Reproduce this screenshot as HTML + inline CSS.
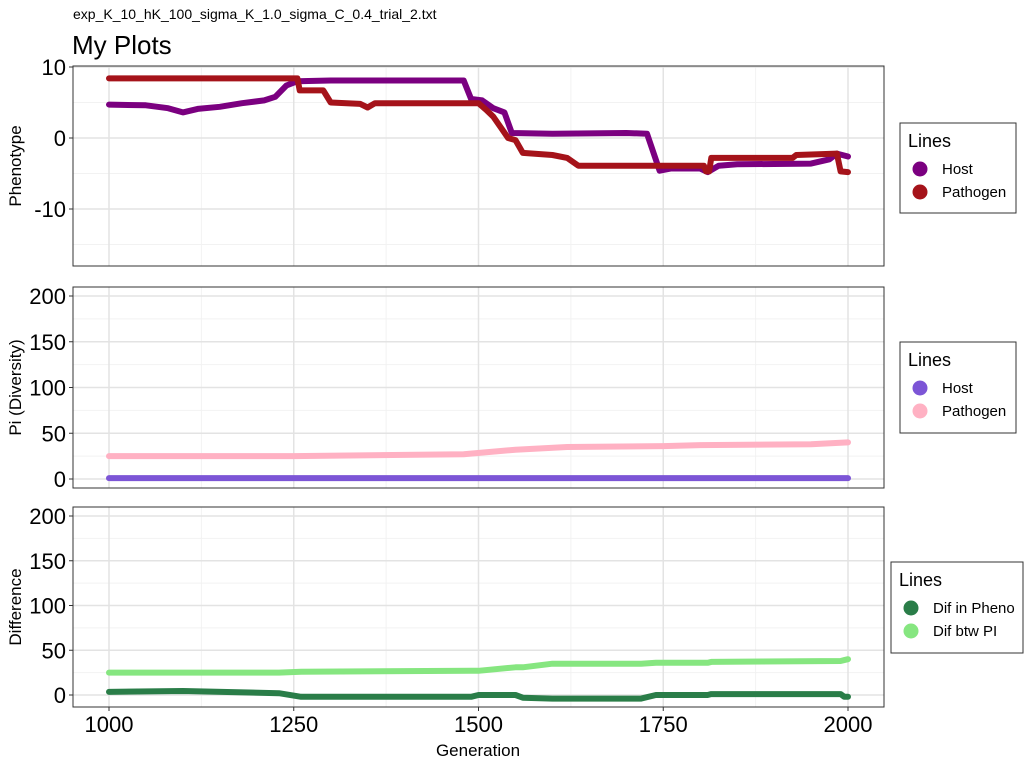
<!DOCTYPE html>
<html><head><meta charset="utf-8"><style>
body{margin:0;background:#fff;font-family:"Liberation Sans",sans-serif}
svg text{font-family:"Liberation Sans",sans-serif}
</style></head><body>
<svg id="c" width="1024" height="768" xmlns="http://www.w3.org/2000/svg">
<text x="73" y="19" font-size="14" fill="#000">exp_K_10_hK_100_sigma_K_1.0_sigma_C_0.4_trial_2.txt</text>
<text x="72" y="54" font-size="26" fill="#000">My Plots</text>
</svg>
<script>
const hostPhenoGen=[1000,1050,1080,1100,1120,1150,1180,1210,1225,1240,1255,1300,1480,1490,1505,1520,1535,1545,1600,1700,1728,1745,1760,1800,1810,1825,1850,1950,1975,1985,2000];
const hostPheno=[4.7,4.6,4.2,3.6,4.1,4.4,4.9,5.3,5.8,7.4,8.0,8.1,8.1,5.5,5.3,4.2,3.6,0.7,0.6,0.7,0.6,-4.6,-4.3,-4.3,-4.8,-3.9,-3.7,-3.6,-3.0,-2.2,-2.6];
const pathPhenoGen=[1000,1255,1258,1290,1300,1340,1350,1360,1500,1510,1520,1530,1540,1550,1560,1600,1620,1635,1805,1808,1812,1815,1925,1930,1985,1990,2000];
const pathPheno=[8.4,8.4,6.7,6.7,5.0,4.8,4.3,4.9,4.9,4.0,3.0,1.5,0.0,-0.3,-2.1,-2.4,-2.8,-3.9,-3.9,-4.7,-4.7,-2.8,-2.8,-2.4,-2.2,-4.7,-4.8];
const piGen=[1000,1250,1480,1550,1620,1750,1800,1950,2000];
const piPath=[25,25,27,32,35,36,37,38,40];
const piHost=[1,1,1,1,1,1,1,1,1];
const difGen=[1000,1100,1230,1260,1490,1500,1550,1560,1600,1720,1740,1810,1815,1990,1995,2000];
const difPheno=[3.5,4.5,2,-2,-2,0,0,-3,-4,-4,0,0,1,1,-2,-2];
const difPi=[25,25,25,26,27,27,31,31,35,35,36,36,37,38,39,40];
const xTicks=[1000,1250,1500,1750,2000];
const svg=document.getElementById('c');const NS='http://www.w3.org/2000/svg';
function mk(t,a,p){const e=document.createElementNS(NS,t);for(const k in a)e.setAttribute(k,a[k]);(p||svg).appendChild(e);return e;}
const X=g=>109+(g-1000)*0.739;
const panels=[
 {top:66,bot:266,v0:0,y0:138,k:7.1,ticks:[10,0,-10],title:'Phenotype',name:'phenotype',
  series:[[hostPhenoGen,hostPheno,'#7b0080','host'],[pathPhenoGen,pathPheno,'#a5131a','pathogen']],
  leg:{x:900,y:123,w:116,h:90,items:[['Host','#7b0080'],['Pathogen','#a5131a']]}},
 {top:287,bot:488,y0:479,k:0.915,ticks:[200,150,100,50,0],title:'Pi (Diversity)',name:'pi',
  series:[[piGen,piPath,'#ffb1c3','pathogen'],[piGen,piHost,'#7c55d6','host']],
  leg:{x:900,y:342,w:116,h:91,items:[['Host','#7c55d6'],['Pathogen','#ffb1c3']]}},
 {top:507,bot:707,y0:695,k:0.895,ticks:[200,150,100,50,0],title:'Difference',name:'difference',
  series:[[difGen,difPi,'#86e680','dif-pi'],[difGen,difPheno,'#2a7d48','dif-pheno']],
  leg:{x:891,y:562,w:132,h:91,items:[['Dif in Pheno','#2a7d48'],['Dif btw PI','#86e680']]}}];
panels.forEach(p=>{
 const Y=v=>p.y0-v*p.k;
 const g=mk('g',{});
 
 
 for(let i=0;i<p.ticks.length-1;i++){const v=(p.ticks[i]+p.ticks[i+1])/2;mk('line',{x1:73,x2:884,y1:Y(v),y2:Y(v),stroke:'#f2f2f2','stroke-width':1},g);}
 if(p.name==='phenotype'){mk('line',{x1:73,x2:884,y1:Y(-15),y2:Y(-15),stroke:'#f2f2f2'},g);}
 for(let i=0;i<xTicks.length-1;i++){const x=X((xTicks[i]+xTicks[i+1])/2);mk('line',{x1:x,x2:x,y1:p.top,y2:p.bot,stroke:'#f2f2f2'},g);}
 p.ticks.forEach(v=>{mk('line',{x1:73,x2:884,y1:Y(v),y2:Y(v),stroke:'#e3e3e3','stroke-width':1.5},g);
  const t=mk('text',{x:66,y:Y(v)+8,'font-size':22,'text-anchor':'end',fill:'#000'},g);t.textContent=v;
  
  
  mk('line',{x1:69,x2:73,y1:Y(v),y2:Y(v),stroke:'#333'},g);});
 xTicks.forEach(v=>{mk('line',{x1:X(v),x2:X(v),y1:p.top,y2:p.bot,stroke:'#e3e3e3','stroke-width':1.5},g);});
 p.series.forEach(s=>{
  const pts=s[0].map((gg,i)=>X(gg).toFixed(1)+','+Y(s[1][i]).toFixed(1)).join(' ');
  const l=mk('polyline',{points:pts,fill:'none',stroke:s[2],'stroke-width':6,'stroke-linejoin':'round','stroke-linecap':'round'},g);
  
  
 });
 mk('rect',{x:73,y:p.top,width:811,height:p.bot-p.top,fill:'none',stroke:'#333','stroke-width':1},g);
 const cy=(p.top+p.bot)/2;
 const at=mk('text',{x:0,y:0,'font-size':17,'text-anchor':'middle',transform:`translate(21,${cy}) rotate(-90)`},g);at.textContent=p.title;
 
 
 const L=p.leg;const lg=mk('g',{},g);
 
 
 mk('rect',{x:L.x,y:L.y,width:L.w,height:L.h,fill:'#fff',stroke:'#333'},lg);
 const lt=mk('text',{x:L.x+8,y:L.y+24,'font-size':18},lg);lt.textContent='Lines';
 L.items.forEach((it,i)=>{const yy=L.y+46+i*23;
  const c=mk('circle',{cx:L.x+20,cy:yy,r:7.5,fill:it[1]},lg);
  
  
  const tt=mk('text',{x:L.x+42,y:yy+5,'font-size':15},lg);tt.textContent=it[0];
  
  });
});
xTicks.forEach(v=>{mk('line',{x1:X(v),x2:X(v),y1:707,y2:711,stroke:'#333'});
 const t=mk('text',{x:X(v),y:732,'font-size':22,'text-anchor':'middle'});t.textContent=v;
 
 });
const xt=mk('text',{x:478,y:756,'font-size':17,'text-anchor':'middle'});xt.textContent='Generation';


</script>
</body></html>
